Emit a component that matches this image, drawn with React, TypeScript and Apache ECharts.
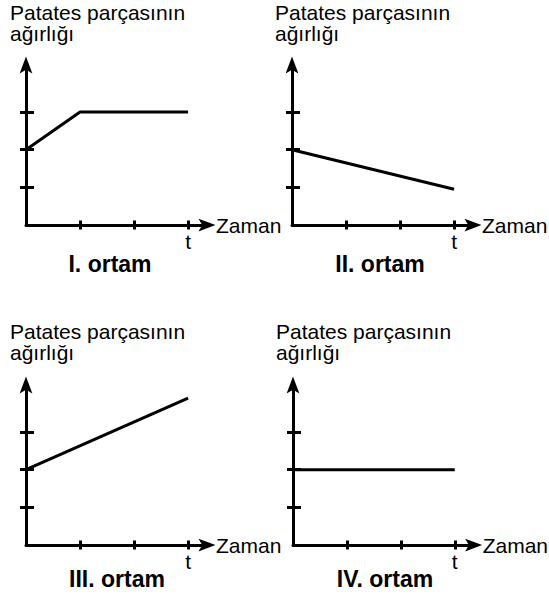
import React, { useEffect, useRef } from 'react';
import * as echarts from 'echarts';

// ---- data ----
const panelNames = ['I. ortam', 'II. ortam', 'III. ortam', 'IV. ortam'];
const yAxisTitleLines = ['Patates parçasının', 'ağırlığı'];
const xAxisTitle = 'Zaman';
const xTickLabel = 't';
const tickValues = [1, 2, 3];
const xLabelValues = [3];

const timeI = [0, 1, 3];
const weightI = [2, 3, 3];
const timeII = [0, 3];
const weightII = [2, 0.95];
const timeIII = [0, 3];
const weightIII = [2, 3.9];
const timeIV = [0, 3];
const weightIV = [2, 2];

const panels = [
  { time: timeI, weight: weightI },
  { time: timeII, weight: weightII },
  { time: timeIII, weight: weightIII },
  { time: timeIV, weight: weightIV },
];

// ---- layout ----
const FONT = '"Liberation Sans", Arial, Helvetica, sans-serif';
const gridPos = [
  { left: 26, top: 65 },
  { left: 292, top: 65 },
  { left: 26, top: 385 },
  { left: 293, top: 385 },
];
const titlePos = [
  { x: 10, y: 12 },
  { x: 275, y: 12 },
  { x: 10, y: 331 },
  { x: 276, y: 331 },
];
const captionPos = [
  { x: 110, y: 264 },
  { x: 380, y: 264 },
  { x: 117, y: 579 },
  { x: 385, y: 579 },
];
const X_MAX = 3.35;
const Y_MAX = 4.25;
const ARROW_SYMBOL = 'path://M6,0 L12,16 L6,12.5 L0,16 Z';
const ARROW = [14, 17];

export default function App() {
  const ref = useRef<HTMLDivElement>(null);

  useEffect(() => {
    if (!ref.current) return;
    const chart = echarts.init(ref.current, undefined, { renderer: 'svg' });

    const grid = gridPos.map((g) => ({ ...g, width: 181, height: 160 }));
    const xAxis: any[] = [];
    const yAxis: any[] = [];
    const tickStyle = { color: '#000', width: 3 };
    panels.forEach((_, i) => {
      xAxis.push({
        gridIndex: i,
        type: 'value',
        min: 0,
        max: X_MAX,
        position: 'bottom',
        name: xAxisTitle,
        nameLocation: 'end',
        nameGap: 9,
        nameTextStyle: { color: '#000', fontSize: 21, fontFamily: FONT },
        axisLine: {
          show: true,
          onZero: false,
          symbol: ['none', ARROW_SYMBOL],
          symbolSize: ARROW,
          lineStyle: { color: '#000', width: 3 },
        },
        axisTick: { show: true, inside: false, length: 4.5, customValues: tickValues, lineStyle: tickStyle },
        axisLabel: {
          show: true,
          customValues: xLabelValues,
          formatter: () => xTickLabel,
          color: '#000',
          fontSize: 21,
          fontFamily: FONT,
          margin: 6,
        },
        splitLine: { show: false },
      });
      xAxis.push({
        gridIndex: i,
        type: 'value',
        min: 0,
        max: X_MAX,
        position: 'bottom',
        axisLine: { show: false, onZero: false },
        axisTick: { show: true, inside: true, length: 4.5, customValues: tickValues, lineStyle: tickStyle },
        axisLabel: { show: false },
        splitLine: { show: false },
      });
      yAxis.push({
        gridIndex: i,
        type: 'value',
        min: 0,
        max: Y_MAX,
        position: 'left',
        axisLine: {
          show: true,
          onZero: false,
          symbol: ['none', ARROW_SYMBOL],
          symbolSize: ARROW,
          lineStyle: { color: '#000', width: 3 },
        },
        axisTick: { show: true, inside: false, length: 6, customValues: tickValues, lineStyle: tickStyle },
        axisLabel: { show: false },
        splitLine: { show: false },
      });
      yAxis.push({
        gridIndex: i,
        type: 'value',
        min: 0,
        max: Y_MAX,
        position: 'left',
        axisLine: { show: false, onZero: false },
        axisTick: { show: true, inside: true, length: 8, customValues: tickValues, lineStyle: tickStyle },
        axisLabel: { show: false },
        splitLine: { show: false },
      });
    });

    const series = panels.map((p, i) => ({
      type: 'line',
      xAxisIndex: i * 2,
      yAxisIndex: i * 2,
      data: p.time.map((t, k) => [t, p.weight[k]]),
      symbol: 'none',
      silent: true,
      lineStyle: { color: '#000', width: 3 },
      z: 3,
    }));

    const graphic: any[] = [];
    titlePos.forEach((p) => {
      yAxisTitleLines.forEach((line, k) => {
        graphic.push({
          type: 'text',
          x: p.x,
          y: p.y + k * 21,
          silent: true,
          style: {
            text: line,
            fill: '#000',
            font: `21px ${FONT}`,
            align: 'left',
            textAlign: 'left',
            verticalAlign: 'middle',
            textVerticalAlign: 'middle',
          },
        });
      });
    });
    captionPos.forEach((p, i) => {
      graphic.push({
        type: 'text',
        x: p.x,
        y: p.y,
        silent: true,
        style: {
          text: panelNames[i],
          fill: '#000',
          font: `bold 23px ${FONT}`,
          align: 'center',
          textAlign: 'center',
          verticalAlign: 'middle',
          textVerticalAlign: 'middle',
        },
      });
    });

    chart.setOption({
      animation: false,
      backgroundColor: '#fff',
      grid,
      xAxis,
      yAxis,
      series,
      graphic,
    });

    return () => chart.dispose();
  }, []);

  return (
    <div
      ref={ref}
      style={{ position: 'fixed', left: 0, top: 0, width: 549, height: 597 }}
    />
  );
}
